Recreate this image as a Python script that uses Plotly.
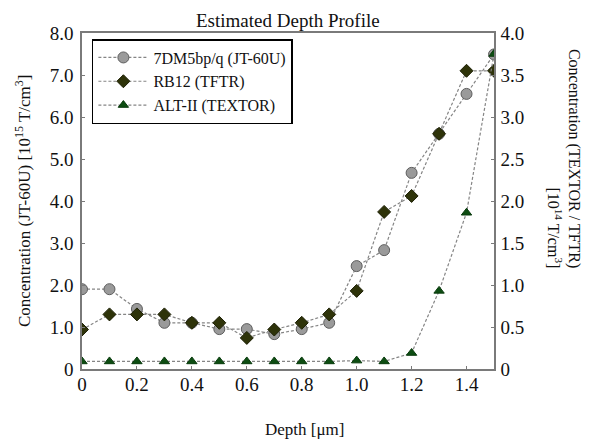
import plotly.graph_objects as go

depth = [0.0, 0.1, 0.2, 0.3, 0.4, 0.5, 0.6, 0.7, 0.8, 0.9, 1.0, 1.1, 1.2, 1.3, 1.4, 1.5]
jt60u = [1.9, 1.9, 1.43, 1.1, 1.1, 0.95, 0.95, 0.83, 0.95, 1.1, 2.45, 2.83, 4.67, 5.6, 6.55, 7.49]
tftr = [0.47, 0.65, 0.65, 0.65, 0.55, 0.55, 0.37, 0.47, 0.55, 0.65, 0.93, 1.87, 2.06, 2.8, 3.55, 3.55]
textor = [0.09, 0.09, 0.09, 0.09, 0.09, 0.09, 0.09, 0.09, 0.09, 0.09, 0.1, 0.09, 0.19, 0.93, 1.86, 3.75]

x_ticks = [0, 0.2, 0.4, 0.6, 0.8, 1.0, 1.2, 1.4]
x_ticktext = ["0", "0.2", "0.4", "0.6", "0.8", "1.0", "1.2", "1.4"]
yl_ticks = [0, 1, 2, 3, 4, 5, 6, 7, 8]
yl_ticktext = ["0", "1.0", "2.0", "3.0", "4.0", "5.0", "6.0", "7.0", "8.0"]
yr_ticks = [0, 0.5, 1.0, 1.5, 2.0, 2.5, 3.0, 3.5, 4.0]
yr_ticktext = ["0", "0.5", "1.0", "1.5", "2.0", "2.5", "3.0", "3.5", "4.0"]

names = ["7DM5bp/q (JT-60U)", "RB12 (TFTR)", "ALT-II (TEXTOR)"]

SERIF = "Liberation Serif, Times New Roman, serif"
LINE = dict(color="#858585", width=1.2, dash="3px,2px")

fig = go.Figure()
fig.add_trace(go.Scatter(
    x=depth, y=jt60u, name=names[0], mode="lines+markers", yaxis="y",
    line=LINE,
    marker=dict(symbol="circle", size=11, color="#9a9a9a", line=dict(color="#5e5e5e", width=1)),
))
fig.add_trace(go.Scatter(
    x=depth, y=tftr, name=names[1], mode="lines+markers", yaxis="y2",
    line=LINE,
    marker=dict(symbol="diamond", size=10, color="#2e3309", line=dict(color="#1d2005", width=1)),
))
fig.add_trace(go.Scatter(
    x=depth, y=textor, name=names[2], mode="lines+markers", yaxis="y2",
    line=LINE,
    marker=dict(symbol="triangle-up", size=9, color="#0d4d12", line=dict(color="#083a0c", width=1)),
))

axis_common = dict(
    showgrid=False, zeroline=False, showline=True, linecolor="#7a7a7a", linewidth=1.5,
    ticks="inside", ticklen=3, tickcolor="#7a7a7a",
    tickfont=dict(family=SERIF, size=19, color="#111"),
)

fig.update_layout(
    width=594, height=444,
    margin=dict(l=74, r=108, t=25, b=83),
    paper_bgcolor="white", plot_bgcolor="white",
    showlegend=True,
    xaxis=dict(range=[0, 1.5], tickvals=x_ticks, ticktext=x_ticktext, mirror=True,
               ticklabelstandoff=-3, **axis_common),
    yaxis=dict(range=[0, 8], tickvals=yl_ticks, ticktext=yl_ticktext, ticklabelstandoff=3, **axis_common),
    yaxis2=dict(range=[0, 4], tickvals=yr_ticks, ticktext=yr_ticktext, overlaying="y", side="right",
                ticklabelstandoff=1, **axis_common),
    legend=dict(x=0.024, y=0.982, xanchor="left", yanchor="top",
                bgcolor="white", bordercolor="black", borderwidth=1.5,
                font=dict(family=SERIF, size=16, color="#111"),
                itemwidth=50, tracegroupgap=0),
    annotations=[
        dict(text="Estimated Depth Profile", xref="paper", yref="paper", x=0.5, y=1.074,
             xanchor="center", yanchor="top", showarrow=False,
             font=dict(family=SERIF, size=19, color="#111")),
        dict(text="Depth [μm]", xref="paper", yref="paper", x=0.54, y=-0.179, xanchor="center", yanchor="middle",
             showarrow=False, font=dict(family=SERIF, size=17, color="#111")),
        dict(text="Concentration (JT-60U) [10<sup>15</sup> T/cm<sup>3</sup>]", xref="paper", yref="paper",
             x=-0.143, y=0.5, xanchor="center", yanchor="middle", textangle=-90,
             showarrow=False, font=dict(family=SERIF, size=17, color="#111")),
        dict(text="Concentration (TEXTOR / TFTR)<br>[10<sup>14</sup> T/cm<sup>3</sup>]", xref="paper", yref="paper",
             x=1.17, y=0.628, xanchor="center", yanchor="middle", textangle=90, align="right",
             showarrow=False, font=dict(family=SERIF, size=16, color="#111")),
    ],
)

fig.write_html("out.html")
